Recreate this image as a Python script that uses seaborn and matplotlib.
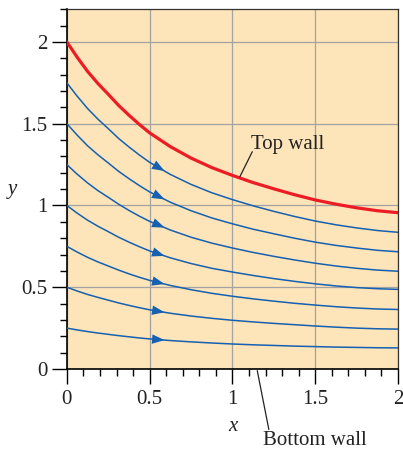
import numpy as np
import pandas as pd
import matplotlib
matplotlib.use("Agg")
import matplotlib.pyplot as plt
from matplotlib.ticker import MultipleLocator
import seaborn as sns

X_POS = [0, 0.0625, 0.125, 0.1875, 0.25, 0.3125, 0.375, 0.4375, 0.5, 0.625, 0.75,
         0.875, 1.0, 1.125, 1.25, 1.375, 1.5, 1.625, 1.75, 1.875, 2.0]

TOP_WALL = [2.0, 1.906, 1.82, 1.746, 1.68, 1.612, 1.552, 1.496, 1.444, 1.36, 1.29,
            1.232, 1.184, 1.14, 1.102, 1.066, 1.034, 1.008, 0.986, 0.968, 0.956]

STREAM_175 = [1.75, 1.668, 1.593, 1.528, 1.47, 1.41, 1.358, 1.309, 1.264, 1.19, 1.129,
              1.078, 1.036, 0.998, 0.964, 0.933, 0.905, 0.882, 0.863, 0.847, 0.836]
STREAM_150 = [1.5, 1.43, 1.365, 1.31, 1.26, 1.209, 1.164, 1.122, 1.083, 1.02, 0.968,
              0.924, 0.888, 0.855, 0.827, 0.80, 0.776, 0.756, 0.74, 0.726, 0.717]
STREAM_125 = [1.25, 1.191, 1.138, 1.091, 1.05, 1.008, 0.97, 0.935, 0.903, 0.85, 0.806,
              0.77, 0.74, 0.713, 0.689, 0.667, 0.647, 0.63, 0.616, 0.605, 0.598]
STREAM_100 = [1.0, 0.953, 0.91, 0.873, 0.84, 0.806, 0.776, 0.748, 0.722, 0.68, 0.645,
              0.616, 0.593, 0.572, 0.553, 0.536, 0.521, 0.508, 0.498, 0.491, 0.487]
STREAM_075 = [0.75, 0.715, 0.683, 0.655, 0.63, 0.605, 0.582, 0.561, 0.542, 0.511, 0.485,
              0.463, 0.445, 0.429, 0.415, 0.402, 0.391, 0.381, 0.373, 0.367, 0.364]
STREAM_050 = [0.5, 0.477, 0.456, 0.438, 0.421, 0.404, 0.389, 0.375, 0.362, 0.341, 0.324,
              0.31, 0.298, 0.288, 0.279, 0.271, 0.263, 0.256, 0.25, 0.246, 0.244]
STREAM_025 = [0.25, 0.239, 0.229, 0.22, 0.212, 0.204, 0.197, 0.19, 0.184, 0.174, 0.166,
              0.159, 0.153, 0.148, 0.144, 0.14, 0.137, 0.134, 0.132, 0.13, 0.129]

STREAMS = [STREAM_175, STREAM_150, STREAM_125, STREAM_100, STREAM_075, STREAM_050, STREAM_025]

TICKS = [0, 0.5, 1, 1.5, 2]
TICK_LABELS = ["0", "0.5", "1", "1.5", "2"]

BG = "#FDE4B9"
BLUE = "#1560B0"
RED = "#EC1C24"
GRID = "#A3A3A3"
INK = "#222222"

sns.set_style("ticks")
plt.rcParams["font.family"] = ["Liberation Serif", "DejaVu Serif"]

fig = plt.figure(figsize=(4.03, 4.55), dpi=100)
ax = fig.add_axes([0.166, 0.189, 0.8215, 0.7906])
ax.set_facecolor(BG)

for vals in STREAMS:
    sns.lineplot(x=X_POS, y=vals, ax=ax, color=BLUE, lw=1.1,
                 estimator=None, sort=False, zorder=3)
    # direction arrow on each streamline
    x0, x1 = 0.50, 0.59
    y0, y1 = np.interp(x0, X_POS, vals), np.interp(x1, X_POS, vals)
    ax.annotate("", xy=(x1, y1), xytext=(x0, y0),
                arrowprops=dict(arrowstyle="-|>,head_length=0.9,head_width=0.34",
                                color=BLUE, lw=0, shrinkA=0, shrinkB=0),
                zorder=4)

sns.lineplot(x=X_POS, y=TOP_WALL, ax=ax, color=RED, lw=2.3,
             estimator=None, sort=False, zorder=5)

ax.set_xlim(0, 2)
ax.set_ylim(0, 2.2)
ax.xaxis.set_minor_locator(MultipleLocator(0.1))
ax.yaxis.set_minor_locator(MultipleLocator(0.1))
ax.set_xticks(TICKS)
ax.set_xticklabels(TICK_LABELS)
ax.set_yticks(TICKS)
ax.set_yticklabels(TICK_LABELS)
ax.grid(True, which="major", color=GRID, lw=0.9, zorder=1)
ax.set_axisbelow(True)

ax.tick_params(which="major", direction="out", length=11, width=1.0,
               labelsize=15, color="black", labelcolor=INK)
ax.tick_params(axis="x", which="major", pad=4)
ax.tick_params(axis="y", which="major", pad=3)
ax.tick_params(which="minor", direction="out", length=5, width=1.0, color="black")

for side in ["left", "bottom"]:
    ax.spines[side].set_color("black")
    ax.spines[side].set_linewidth(1.2)
for side in ["top", "right"]:
    ax.spines[side].set_color("#333333")
    ax.spines[side].set_linewidth(0.9)

ax.set_xlabel("x", fontsize=15, style="italic", va="center", color=INK)
ax.xaxis.set_label_coords(0.5, -0.161)
ax.set_ylabel("y", fontsize=15, style="italic", rotation=0, va="center", ha="center", color=INK)
ax.yaxis.set_label_coords(-0.166, 0.50)

# annotations
ax.text(1.113, 1.344, "Top wall", fontsize=15, ha="left", va="baseline", color=INK)
ax.plot([1.12, 1.045], [1.329, 1.176], color=INK, lw=0.9, zorder=6)
ax.text(1.184, -0.44, "Bottom wall", fontsize=15, ha="left", va="center",
        color=INK, clip_on=False)
ax.plot([1.15, 1.22], [-0.01, -0.37], color=INK, lw=0.9, clip_on=False, zorder=6)

plt.savefig("out.png", dpi=100)
plt.close()
